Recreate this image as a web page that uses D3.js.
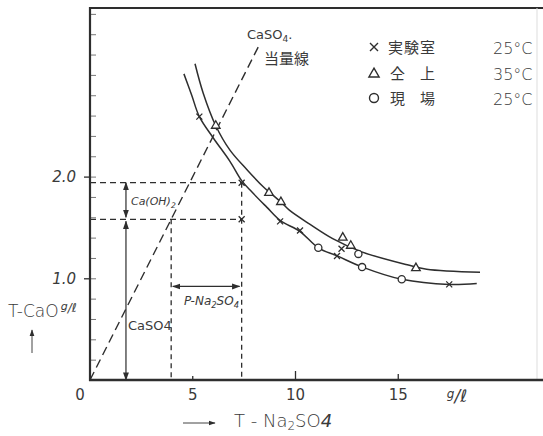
<!DOCTYPE html>
<html>
<head>
<meta charset="utf-8">
<script src="https://cdn.jsdelivr.net/npm/d3@7"></script>
<style>
  body { margin: 0; background: #fff; }
  svg { display: block; }
  text { fill: #3a3a3a; font-family: "DejaVu Sans", sans-serif; }
</style>
</head>
<body>
<div id="chart"></div>
<script>
// tamaño y marco
const width = 543;
const height = 436;
const frame = { left: 90, top: 8, right: 537, bottom: 380 };

// curva superior (35°C) y curva inferior (25°C)
const upperX = [5.11, 5.51, 6.12, 6.81, 7.63, 8.43, 9.29, 9.70, 10.71, 11.81, 13.22, 15.49, 16.38, 18.98];
const upperY = [3.11, 2.82, 2.50, 2.26, 2.07, 1.90, 1.75, 1.67, 1.53, 1.39, 1.26, 1.13, 1.09, 1.06];
const lowerX = [4.57, 4.95, 5.32, 6.00, 6.81, 7.38, 7.87, 8.60, 9.25, 10.22, 11.11, 12.03, 13.26, 15.17, 17.48, 18.82];
const lowerY = [3.01, 2.80, 2.59, 2.38, 2.15, 1.96, 1.85, 1.70, 1.57, 1.46, 1.30, 1.22, 1.11, 0.99, 0.94, 0.95];

// puntos medidos
const labX = [5.32, 9.25, 10.22, 12.24, 12.02, 17.48];   // × 実験室 25°C
const labY = [2.59, 1.56, 1.47, 1.29, 1.22, 0.94];
const warmX = [6.12, 8.71, 9.29, 12.30, 12.69, 15.86];  // △ 仝上 35°C
const warmY = [2.50, 1.84, 1.75, 1.40, 1.32, 1.10];
const fieldX = [11.11, 13.06, 13.24, 15.17];           // ○ 現場 25°C
const fieldY = [1.30, 1.24, 1.11, 0.99];

// construcción (CaSO4 当量線 y lecturas)
const equivX = [0, 8.2];
const equivY = [0, 3.28];
const totalCaO = 1.94;
const caso4CaO = 1.58;
const equivNa = 3.95;
const totalNa = 7.38;
const arrowCaX = 1.75;
const arrowNaY = 0.92;

// ejes
const xTicks = [5, 10, 15];
const xTickLen = [4, 9, 6];
const xTickLabels = ["0", "5", "10", "15"];
const yTicks = [0.2, 0.4, 0.6, 0.8, 1.0, 1.2, 1.4, 1.6, 1.8, 2.0, 2.2, 2.4, 2.6, 2.8, 3.0, 3.2, 3.4, 3.6];
const yMajor = [1.0, 2.0];
const yTickLabels = ["1.0", "2.0"];

const legendSymbols = ["×", "△", "○"];
const legendNames = [["実験室"], ["仝", "上"], ["現", "場"]];
const legendTemps = ["25°C", "35°C", "25°C"];

const x = d3.scaleLinear().domain([0, 20]).range([frame.left, frame.left + 20 * 20.55]);
const y = d3.scaleLinear().domain([0, 3.6]).range([frame.bottom, frame.bottom - 3.6 * 101.7]);

const svg = d3.select("#chart").append("svg")
  .attr("width", width)
  .attr("height", height);

const ink = "#2e2e2e";

// flechas
const defs = svg.append("defs");
defs.append("marker")
  .attr("id", "head")
  .attr("viewBox", "0 0 10 10")
  .attr("refX", 9).attr("refY", 5)
  .attr("markerWidth", 7).attr("markerHeight", 7)
  .attr("orient", "auto-start-reverse")
  .append("path")
  .attr("d", "M0,1.5 L10,5 L0,8.5 Z")
  .attr("fill", ink);

// marco
svg.append("line")
  .attr("x1", frame.left).attr("x2", width)
  .attr("y1", frame.top).attr("y2", frame.top)
  .attr("stroke", ink).attr("stroke-width", 2);
svg.append("line")
  .attr("x1", frame.right).attr("x2", frame.right)
  .attr("y1", frame.top).attr("y2", frame.bottom)
  .attr("stroke", "#ddd").attr("stroke-width", 1);

// eje Y
svg.append("g")
  .attr("transform", `translate(${frame.left},0)`)
  .call(d3.axisRight(y).tickValues(yTicks).tickSize(6).tickFormat(""))
  .call(g => g.select(".domain").remove())
  .call(g => g.selectAll("line").attr("stroke", "#777").attr("stroke-width", 1));
svg.append("g")
  .attr("transform", `translate(${frame.left},0)`)
  .call(d3.axisLeft(y).tickValues(yMajor).tickSize(6).tickPadding(8)
    .tickFormat((d, i) => yTickLabels[i]))
  .call(g => g.select(".domain").remove())
  .call(g => g.selectAll("line").attr("stroke", ink).attr("stroke-width", 1.3))
  .call(g => g.selectAll("text")
    .attr("fill", "#555")
    .style("font-size", "15px")
    .style("font-style", "italic")
    .style("font-family", "'DejaVu Sans', sans-serif"));
svg.append("line")
  .attr("x1", frame.left).attr("x2", frame.left)
  .attr("y1", frame.top - 1).attr("y2", frame.bottom + 1)
  .attr("stroke", ink).attr("stroke-width", 2.2);

// eje X
svg.append("g")
  .selectAll("line")
  .data(xTicks)
  .join("line")
  .attr("x1", d => x(d)).attr("x2", d => x(d))
  .attr("y1", frame.bottom)
  .attr("y2", (d, i) => frame.bottom - xTickLen[i])
  .attr("stroke", ink).attr("stroke-width", 1.3);
svg.append("line")
  .attr("x1", frame.left - 1).attr("x2", width)
  .attr("y1", frame.bottom).attr("y2", frame.bottom)
  .attr("stroke", ink).attr("stroke-width", 2.4);

svg.append("g")
  .selectAll("text")
  .data([0].concat(xTicks))
  .join("text")
  .attr("x", d => d === 0 ? x(d) - 10 : x(d))
  .attr("y", frame.bottom + 20)
  .attr("text-anchor", "middle")
  .attr("fill", "#555")
  .style("font-size", "15px")
  .text((d, i) => xTickLabels[i]);

// unidad g/ℓ en el eje X
const unitX = svg.append("text")
  .attr("x", 457).attr("y", frame.bottom + 22)
  .attr("text-anchor", "middle")
  .style("font-size", "17px")
  .style("font-style", "italic")
  .attr("fill", "#555");
unitX.append("tspan").text("g").attr("dy", -4).style("font-size", "12px");
unitX.append("tspan").text("/ℓ").attr("dy", 4);

// título eje X
svg.append("line")
  .attr("x1", 183).attr("x2", 215)
  .attr("y1", 423).attr("y2", 423)
  .attr("stroke", "#444").attr("stroke-width", 1)
  .attr("marker-end", "url(#head)");
const xTitle = svg.append("text")
  .attr("x", 234).attr("y", 427)
  .style("font-size", "18px")
  .style("font-weight", "300")
  .attr("fill", "#444");
xTitle.append("tspan").text("T - Na");
xTitle.append("tspan").text("2").attr("dy", 3).style("font-size", "12px");
xTitle.append("tspan").text("SO").attr("dy", -3);
xTitle.append("tspan").text("4").style("font-style", "italic");

// título eje Y
const yTitle = svg.append("text")
  .attr("x", 8).attr("y", 317)
  .style("font-size", "17px")
  .style("font-weight", "300")
  .attr("fill", "#444");
yTitle.append("tspan").text("T-CaO");
yTitle.append("tspan").text("g").attr("dx", 2).attr("dy", -7).style("font-size", "11px").style("font-style", "italic");
yTitle.append("tspan").text("/ℓ").attr("dy", 2).style("font-size", "12px").style("font-style", "italic");
svg.append("line")
  .attr("x1", 32).attr("x2", 32)
  .attr("y1", 353).attr("y2", 330)
  .attr("stroke", "#444").attr("stroke-width", 1)
  .attr("marker-end", "url(#head)");

// líneas de construcción
const dashed = (x1, y1, x2, y2, dash, w) => svg.append("line")
  .attr("x1", x(x1)).attr("y1", y(y1))
  .attr("x2", x(x2)).attr("y2", y(y2))
  .attr("stroke", ink).attr("stroke-width", w)
  .attr("stroke-dasharray", dash);

dashed(equivX[0], equivY[0], equivX[1], equivY[1], "9,5", 1.4);
dashed(0, totalCaO, totalNa, totalCaO, "6,4", 1.2);
dashed(0, caso4CaO, totalNa, caso4CaO, "6,4", 1.2);
dashed(equivNa, caso4CaO, equivNa, 0, "5,4", 1.3);
dashed(totalNa, totalCaO, totalNa, 0, "5,4", 1.3);

const arrow = (x1, y1, x2, y2) => svg.append("line")
  .attr("x1", x(x1)).attr("y1", y(y1))
  .attr("x2", x(x2)).attr("y2", y(y2))
  .attr("stroke", ink).attr("stroke-width", 1.2)
  .attr("marker-start", "url(#head)")
  .attr("marker-end", "url(#head)");

arrow(arrowCaX, totalCaO, arrowCaX, caso4CaO + 0.02);
arrow(arrowCaX, caso4CaO - 0.02, arrowCaX, 0);
arrow(equivNa + 0.08, arrowNaY, totalNa - 0.1, arrowNaY);

// etiquetas de construcción
const sub = (sel, parts) => {
  parts.forEach(([t, s]) => {
    const ts = sel.append("tspan").text(t);
    if (s === 1) ts.attr("dy", 3).style("font-size", "0.7em");
    if (s === -1) ts.attr("dy", -3);
  });
  return sel;
};
sub(svg.append("text")
  .attr("x", x(arrowCaX) + 5).attr("y", 205)
  .style("font-size", "11px").style("font-style", "italic"),
  [["Ca(OH)"], ["2", 1]]);
sub(svg.append("text")
  .attr("x", x(arrowCaX) + 2).attr("y", 330)
  .style("font-size", "13px"),
  [["CaSO"], ["4", 0]]);
sub(svg.append("text")
  .attr("x", 184).attr("y", 305)
  .style("font-size", "12px").style("font-style", "italic"),
  [["P-Na"], ["2", 1], ["SO", -1], ["4", 1]]);
sub(svg.append("text")
  .attr("x", 247).attr("y", 39)
  .style("font-size", "13px"),
  [["CaSO"], ["4", 1], [".", -1]]);
svg.append("text")
  .attr("x", 264).attr("y", 64)
  .style("font-size", "15px")
  .style("font-family", "'Noto Sans CJK JP', sans-serif")
  .text("当量線");

// curvas
const line = d3.line()
  .x(d => x(d[0]))
  .y(d => y(d[1]))
  .curve(d3.curveCatmullRom.alpha(0.5));

svg.append("path")
  .datum(upperX.map((v, i) => [v, upperY[i]]))
  .attr("d", line)
  .attr("fill", "none").attr("stroke", ink).attr("stroke-width", 1.5);
svg.append("path")
  .datum(lowerX.map((v, i) => [v, lowerY[i]]))
  .attr("d", line)
  .attr("fill", "none").attr("stroke", ink).attr("stroke-width", 1.5);

// marcadores
const cross = r => `M${-r},${-r}L${r},${r}M${-r},${r}L${r},${-r}`;

svg.append("g")
  .selectAll("path")
  .data(labX.map((v, i) => [v, labY[i]]).concat([[totalNa, totalCaO], [totalNa, caso4CaO]]))
  .join("path")
  .attr("transform", d => `translate(${x(d[0])},${y(d[1])})`)
  .attr("d", cross(3))
  .attr("stroke", ink).attr("stroke-width", 1.3);

svg.append("g")
  .selectAll("path")
  .data(warmX.map((v, i) => [v, warmY[i]]))
  .join("path")
  .attr("transform", d => `translate(${x(d[0])},${y(d[1])})`)
  .attr("d", d3.symbol(d3.symbolTriangle, 32))
  .attr("fill", "#fff").attr("stroke", ink).attr("stroke-width", 1.3);

svg.append("g")
  .selectAll("circle")
  .data(fieldX.map((v, i) => [v, fieldY[i]]))
  .join("circle")
  .attr("cx", d => x(d[0]))
  .attr("cy", d => y(d[1]))
  .attr("r", 3.6)
  .attr("fill", "#fff").attr("stroke", ink).attr("stroke-width", 1.3);

// leyenda
const legend = svg.append("g");
const rowY = [47, 73, 98];
legendSymbols.forEach((s, i) => {
  const g = legend.append("g").attr("transform", `translate(0,${rowY[i]})`);
  if (i === 0) g.append("path").attr("transform", "translate(374,0)").attr("d", cross(4))
    .attr("stroke", ink).attr("stroke-width", 1.4);
  if (i === 1) g.append("path").attr("transform", "translate(374,1)")
    .attr("d", d3.symbol(d3.symbolTriangle, 45)).attr("fill", "none")
    .attr("stroke", ink).attr("stroke-width", 1.4);
  if (i === 2) g.append("circle").attr("cx", 374).attr("r", 4.5)
    .attr("fill", "none").attr("stroke", ink).attr("stroke-width", 1.4);
  const names = legendNames[i];
  if (names.length === 1) {
    g.append("text").attr("x", 388).attr("y", 6)
      .style("font-size", "15px")
      .style("letter-spacing", "1px")
      .style("font-family", "'Noto Sans CJK JP', sans-serif")
      .text(names[0]);
  } else {
    g.append("text").attr("x", 390).attr("y", 6)
      .style("font-size", "15px")
      .style("font-family", "'Noto Sans CJK JP', sans-serif")
      .text(names[0]);
    g.append("text").attr("x", 420).attr("y", 6)
      .style("font-size", "15px")
      .style("font-family", "'Noto Sans CJK JP', sans-serif")
      .text(names[1]);
  }
  g.append("text").attr("x", 493).attr("y", 7)
    .style("font-size", "16px")
    .style("font-weight", "300")
    .text(legendTemps[i]);
});
</script>
</body>
</html>
